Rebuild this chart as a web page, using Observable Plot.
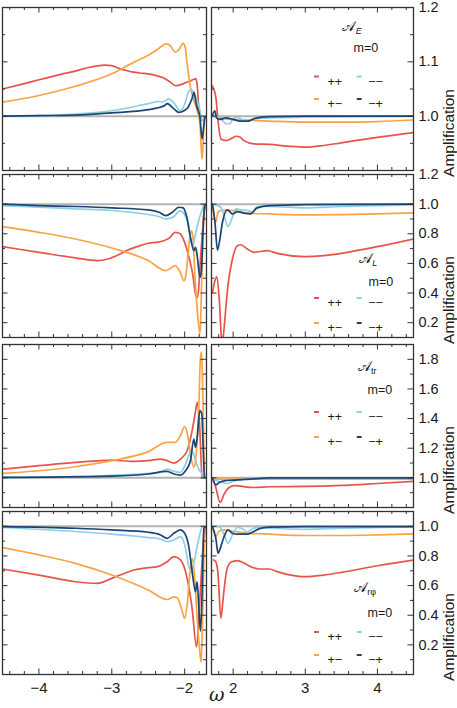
<!DOCTYPE html>
<html><head><meta charset="utf-8">
<script src="https://cdn.jsdelivr.net/npm/d3@7"></script>
<script src="https://cdn.jsdelivr.net/npm/@observablehq/plot@0.6"></script>
<style>
body{margin:0;background:#fff;}
#chart{position:relative;width:457px;height:708px;overflow:hidden;font-family:"Liberation Sans",Arial,sans-serif;}
#chart svg{position:absolute;overflow:visible;}
</style></head><body><div id="chart"></div>
<script>
// ---------- DATA ----------
const seriesKeys = ["pp","pm","mm","mp"];
const seriesLabels = ["++","+−","−−","−+"];

// Row 1: A_E
const E_left_pp = [[-4.5,1.050],[-4.2,1.060],[-4.0,1.067],[-3.7,1.077],[-3.5,1.083],[-3.3,1.090],[-3.1,1.094],[-3.0,1.093],[-2.9,1.088],[-2.8,1.084],[-2.7,1.081],[-2.6,1.079],[-2.5,1.078],[-2.4,1.075],[-2.3,1.071],[-2.2,1.063],[-2.12,1.056],[-2.05,1.058],[-1.98,1.062],[-1.92,1.065],[-1.87,1.068],[-1.85,1.069],[-1.83,1.06],[-1.806,1.017],[-1.78,0.998],[-1.757,0.992],[-1.728,0.997],[-1.70,1.0]];
const E_left_pm = [[-4.5,1.026],[-4.0,1.038],[-3.5,1.055],[-3.0,1.078],[-2.7,1.099],[-2.5,1.112],[-2.35,1.125],[-2.26,1.133],[-2.2,1.13],[-2.13,1.118],[-2.08,1.122],[-2.02,1.134],[-1.99,1.125],[-1.965,1.096],[-1.92,1.053],[-1.874,1.029],[-1.828,1.010],[-1.79,0.986],[-1.773,0.943],[-1.759,0.921],[-1.745,0.955],[-1.728,0.998],[-1.70,1.0]];
const E_left_mm = [[-4.5,1.0],[-4.0,1.001],[-3.5,1.004],[-3.0,1.010],[-2.5,1.023],[-2.35,1.027],[-2.3,1.026],[-2.22,1.032],[-2.15,1.025],[-2.06,1.010],[-2.0,1.022],[-1.96,1.04],[-1.91,1.050],[-1.87,1.041],[-1.83,1.029],[-1.80,1.017],[-1.78,1.004],[-1.757,0.992],[-1.73,0.995],[-1.70,1.0]];
const E_left_mp = [[-4.5,1.0],[-4.0,1.001],[-3.5,1.002],[-3.0,1.006],[-2.5,1.012],[-2.35,1.016],[-2.28,1.019],[-2.24,1.023],[-2.15,1.014],[-2.08,1.007],[-2.01,1.010],[-1.95,1.017],[-1.90,1.032],[-1.87,1.044],[-1.85,1.029],[-1.83,1.017],[-1.79,0.998],[-1.76,0.958],[-1.735,0.985],[-1.72,0.998],[-1.70,1.0]];
const E_right_pp = [[1.71,1.056],[1.76,1.035],[1.79,0.992],[1.83,0.958],[1.90,0.955],[1.99,0.960],[2.04,0.963],[2.10,0.961],[2.15,0.955],[2.29,0.949],[2.5,0.948],[2.75,0.945],[3.0,0.943],[3.25,0.946],[3.5,0.951],[4.0,0.961],[4.5,0.970]];
const E_right_pm = [[1.71,1.0],[1.8,0.998],[1.9,0.995],[2.0,0.994],[2.5,0.991],[3.0,0.989],[3.5,0.989],[4.0,0.990],[4.5,0.993]];
const E_right_mm = [[1.71,1.0],[1.78,0.999],[1.85,0.993],[1.90,0.986],[1.95,0.986],[2.00,0.995],[2.06,0.998],[2.12,0.994],[2.2,0.991],[2.3,0.995],[2.5,0.997],[3.0,0.998],[4.5,1.0]];
const E_right_mp = [[1.71,1.0],[1.746,1.010],[1.77,0.997],[1.82,0.994],[1.9,0.997],[2.0,0.994],[2.1,0.991],[2.2,0.991],[2.3,0.996],[2.5,0.999],[3.0,1.0],[4.5,1.0]];

// Row 2: A_L
const L_left_pp = [[-4.5,0.713],[-4.0,0.675],[-3.5,0.637],[-3.2,0.619],[-3.05,0.63],[-2.9,0.66],[-2.8,0.686],[-2.65,0.713],[-2.5,0.736],[-2.35,0.745],[-2.2,0.776],[-2.13,0.81],[-2.06,0.80],[-2.0,0.742],[-1.94,0.641],[-1.89,0.529],[-1.85,0.393],[-1.828,0.370],[-1.806,0.438],[-1.79,0.573],[-1.757,0.8],[-1.735,0.936],[-1.71,0.99],[-1.70,1.0]];
const L_left_pm = [[-4.5,0.848],[-4.0,0.81],[-3.5,0.765],[-3.0,0.704],[-2.5,0.619],[-2.26,0.551],[-2.2,0.565],[-2.13,0.585],[-2.06,0.54],[-2.01,0.483],[-1.99,0.5],[-1.955,0.652],[-1.925,0.79],[-1.905,0.82],[-1.885,0.77],[-1.857,0.506],[-1.826,0.28],[-1.79,0.123],[-1.773,0.348],[-1.755,0.686],[-1.735,0.957],[-1.71,1.0],[-1.70,1.0]];
const L_left_mm = [[-4.5,0.99],[-4.0,0.98],[-3.5,0.968],[-3.0,0.957],[-2.5,0.93],[-2.35,0.916],[-2.26,0.90],[-2.15,0.915],[-2.06,0.955],[-2.0,0.93],[-1.965,0.889],[-1.92,0.776],[-1.89,0.72],[-1.85,0.80],[-1.806,0.889],[-1.757,0.968],[-1.728,1.0],[-1.70,1.0]];
const L_left_mp = [[-4.5,1.0],[-4.0,0.99],[-3.5,0.984],[-3.0,0.975],[-2.5,0.961],[-2.35,0.945],[-2.26,0.923],[-2.17,0.945],[-2.08,0.979],[-2.02,0.975],[-1.97,0.911],[-1.92,0.776],[-1.874,0.686],[-1.85,0.709],[-1.828,0.652],[-1.79,0.506],[-1.77,0.55],[-1.745,0.844],[-1.725,0.99],[-1.70,1.0]];
const L_right_pp = [[1.714,0.405],[1.745,0.48],[1.774,0.51],[1.806,0.37],[1.838,0.1],[1.852,0.06],[1.868,0.13],[1.921,0.42],[1.99,0.63],[2.059,0.72],[2.105,0.726],[2.197,0.697],[2.289,0.675],[2.472,0.686],[2.61,0.668],[3.0,0.646],[3.25,0.652],[3.5,0.668],[4.0,0.713],[4.5,0.765]];
const L_right_pm = [[1.714,0.98],[1.76,0.878],[1.79,0.945],[1.82,0.957],[1.9,0.96],[2.0,0.957],[2.2,0.939],[2.5,0.934],[3.0,0.927],[3.5,0.929],[4.0,0.934],[4.5,0.941]];
const L_right_mm = [[1.714,1.0],[1.83,0.979],[1.875,0.923],[1.93,0.848],[1.99,0.912],[2.036,0.968],[2.105,0.961],[2.197,0.957],[2.266,0.945],[2.334,0.984],[2.5,0.984],[3.0,0.975],[3.5,0.984],[4.5,0.995]];
const L_right_mp = [[1.714,1.0],[1.746,0.889],[1.783,0.69],[1.82,0.776],[1.852,0.878],[1.92,0.961],[1.99,0.934],[2.059,0.95],[2.15,0.939],[2.24,0.934],[2.334,0.975],[2.5,0.99],[3.0,0.997],[4.5,1.0]];

// Row 3: A_tr
const tr_left_pp = [[-4.5,1.059],[-4.0,1.082],[-3.5,1.104],[-3.0,1.12],[-2.7,1.111],[-2.5,1.116],[-2.33,1.127],[-2.24,1.116],[-2.148,1.1],[-2.057,1.127],[-1.966,1.183],[-1.897,1.319],[-1.85,1.45],[-1.828,1.51],[-1.796,1.364],[-1.76,1.003],[-1.70,1.0]];
const tr_left_pm = [[-4.5,1.03],[-4.0,1.048],[-3.5,1.075],[-3.0,1.116],[-2.5,1.177],[-2.24,1.24],[-2.13,1.24],[-2.057,1.285],[-2.0,1.346],[-1.957,1.285],[-1.92,1.161],[-1.874,1.071],[-1.851,1.116],[-1.805,1.476],[-1.783,1.814],[-1.769,1.848],[-1.751,1.589],[-1.728,1.026],[-1.70,1.0]];
const tr_left_mm = [[-4.5,1.003],[-3.5,1.008],[-3.0,1.017],[-2.5,1.03],[-2.33,1.04],[-2.24,1.059],[-2.148,1.044],[-2.057,1.037],[-1.988,1.093],[-1.943,1.15],[-1.897,1.183],[-1.851,1.116],[-1.805,1.059],[-1.76,1.026],[-1.728,1.003],[-1.70,1.0]];
const tr_left_mp = [[-4.5,1.003],[-3.0,1.012],[-2.5,1.026],[-2.24,1.044],[-2.148,1.026],[-2.057,1.019],[-1.988,1.048],[-1.92,1.116],[-1.874,1.262],[-1.851,1.206],[-1.828,1.273],[-1.792,1.454],[-1.764,1.431],[-1.746,1.206],[-1.728,1.003],[-1.70,1.0]];
const tr_right_pp = [[1.714,0.998],[1.76,0.935],[1.82,0.834],[1.875,0.89],[1.944,0.935],[2.013,0.947],[2.289,0.935],[2.5,0.94],[3.0,0.942],[3.5,0.949],[4.0,0.962],[4.5,0.976]];
const tr_right_pm = [[1.714,0.998],[1.8,0.992],[2.5,0.991],[3.5,0.991],[4.5,0.992]];
const tr_right_mm = [[1.714,0.998],[1.78,0.98],[1.83,0.969],[1.92,0.962],[1.99,0.976],[2.15,0.989],[2.5,0.998],[4.5,1.0]];
const tr_right_mp = [[1.714,1.0],[1.76,0.953],[1.806,0.969],[1.875,0.98],[2.013,0.985],[2.243,0.992],[2.5,1.0],[4.5,1.0]];

// Row 4: A_rφ
const rphi_left_pp = [[-4.5,0.712],[-4.0,0.671],[-3.5,0.626],[-3.2,0.615],[-3.0,0.649],[-2.83,0.682],[-2.7,0.705],[-2.5,0.721],[-2.375,0.728],[-2.24,0.761],[-2.148,0.795],[-2.057,0.773],[-1.966,0.649],[-1.897,0.445],[-1.837,0.186],[-1.805,0.378],[-1.783,0.581],[-1.755,0.807],[-1.728,0.965],[-1.70,0.998]];
const rphi_left_pm = [[-4.5,0.856],[-4.0,0.807],[-3.5,0.75],[-3.0,0.671],[-2.5,0.57],[-2.24,0.506],[-2.148,0.524],[-2.1,0.518],[-2.03,0.423],[-2.0,0.378],[-1.966,0.468],[-1.93,0.671],[-1.897,0.784],[-1.865,0.671],[-1.828,0.378],[-1.796,0.175],[-1.774,0.084],[-1.751,0.445],[-1.728,0.919],[-1.70,0.987]];
const rphi_left_mm = [[-4.5,0.992],[-3.5,0.965],[-3.0,0.947],[-2.5,0.924],[-2.33,0.913],[-2.24,0.897],[-2.148,0.908],[-2.057,0.931],[-1.988,0.852],[-1.943,0.728],[-1.91,0.694],[-1.851,0.807],[-1.805,0.919],[-1.76,0.992],[-1.70,0.998]];
const rphi_left_mp = [[-4.5,0.998],[-3.5,0.987],[-3.0,0.976],[-2.5,0.96],[-2.33,0.942],[-2.24,0.919],[-2.148,0.953],[-2.057,0.976],[-1.988,0.942],[-1.943,0.863],[-1.897,0.694],[-1.851,0.558],[-1.828,0.626],[-1.805,0.445],[-1.783,0.292],[-1.76,0.558],[-1.737,0.987],[-1.70,0.998]];
const rphi_right_pp = [[1.728,0.773],[1.76,0.761],[1.792,0.671],[1.829,0.378],[1.866,0.536],[1.912,0.705],[1.967,0.757],[2.059,0.768],[2.128,0.757],[2.243,0.728],[2.357,0.712],[2.5,0.712],[2.61,0.694],[2.748,0.676],[3.0,0.66],[3.254,0.671],[3.5,0.689],[4.0,0.734],[4.5,0.773]];
const rphi_right_pm = [[1.714,0.998],[1.76,0.931],[1.806,0.969],[1.875,0.976],[2.013,0.965],[2.243,0.953],[2.5,0.947],[3.0,0.938],[3.5,0.938],[4.0,0.942],[4.5,0.949]];
const rphi_right_mm = [[1.714,1.0],[1.806,0.998],[1.875,0.942],[1.93,0.886],[1.99,0.942],[2.059,0.992],[2.128,0.983],[2.197,0.96],[2.266,0.983],[2.334,0.992],[2.5,0.987],[3.0,0.98],[3.5,0.987],[4.5,0.996]];
const rphi_right_mp = [[1.714,0.998],[1.76,0.919],[1.792,0.818],[1.829,0.863],[1.875,0.931],[1.93,0.976],[1.99,0.953],[2.059,0.947],[2.197,0.947],[2.266,0.96],[2.357,0.983],[2.5,0.994],[3.0,0.998],[4.5,0.998]];

// Axes / ticks
const xDomainLeft = [-4.5, -1.7], xDomainRight = [1.7, 4.5];
const xMajorLeft = [-4, -3, -2];
const xMinorLeft = [-4.4, -4.2, -3.8, -3.6, -3.4, -3.2, -2.8, -2.6, -2.4, -2.2, -1.8];
const xMajorRight = [2, 3, 4];
const xMinorRight = [1.8, 2.2, 2.4, 2.6, 2.8, 3.2, 3.4, 3.6, 3.8, 4.2, 4.4];

const yDomainE = [0.9, 1.2], yMajorE = [0.9, 1.0, 1.1, 1.2], yMinorE = [0.95, 1.05, 1.15], yLabelsE = [1.0, 1.1, 1.2];
const yDomainL = [0.1, 1.2], yMajorL = [0.2, 0.4, 0.6, 0.8, 1.0, 1.2], yMinorL = [0.3, 0.5, 0.7, 0.9, 1.1], yLabelsL = [0.2, 0.4, 0.6, 0.8, 1.0, 1.2];
const yDomainTr = [0.8, 1.9], yMajorTr = [1.0, 1.2, 1.4, 1.6, 1.8], yMinorTr = [0.9, 1.1, 1.3, 1.5, 1.7], yLabelsTr = [1.0, 1.2, 1.4, 1.6, 1.8];
const yDomainRphi = [0, 1.1], yMajorRphi = [0.2, 0.4, 0.6, 0.8, 1.0], yMinorRphi = [0.1, 0.3, 0.5, 0.7, 0.9], yLabelsRphi = [0.2, 0.4, 0.6, 0.8, 1.0];

// ---------- STYLE / LAYOUT ----------
const colors = ["#e8544b", "#f8a444", "#8dcfe6", "#1c4574"];
const frameColor = "#333";
const sans = "Liberation Sans, Arial, sans-serif";

const rowsCfg = [
  {sub:"E", subItalic:true, y:yDomainE, yMajor:yMajorE, yMinor:yMinorE, yLabels:yLabelsE, top:7, h:163,
   left:[E_left_pp,E_left_pm,E_left_mm,E_left_mp], right:[E_right_pp,E_right_pm,E_right_mm,E_right_mp],
   lab:{a:[141,20], m:[142,36], leg:[69.5,92]}},
  {sub:"L", subItalic:true, y:yDomainL, yMajor:yMajorL, yMinor:yMinorL, yLabels:yLabelsL, top:174, h:163,
   left:[L_left_pp,L_left_pm,L_left_mm,L_left_mp], right:[L_right_pp,L_right_pm,L_right_mm,L_right_mp],
   lab:{a:[157,85], m:[157,103], leg:[124,149]}},
  {sub:"tr", subItalic:false, y:yDomainTr, yMajor:yMajorTr, yMinor:yMinorTr, yLabels:yLabelsTr, top:344, h:163,
   left:[tr_left_pp,tr_left_pm,tr_left_mm,tr_left_mp], right:[tr_right_pp,tr_right_pm,tr_right_mm,tr_right_mp],
   lab:{a:[156,23], m:[156,41], leg:[68,93]}},
  {sub:"rφ", subItalic:false, y:yDomainRphi, yMajor:yMajorRphi, yMinor:yMinorRphi, yLabels:yLabelsRphi, top:511, h:163,
   left:[rphi_left_pp,rphi_left_pm,rphi_left_mm,rphi_left_mp], right:[rphi_right_pp,rphi_right_pm,rphi_right_mm,rphi_right_mp],
   lab:{a:[154,77], m:[156,97], leg:[121,144]}}
];

const legendCols = [{d:[103,108], t:116}, {d:[145.7,150.7], t:156.7}];
// legend layout: row a -> ++ (col0), −− (col1); row b -> +− (col0), −+ (col1)
const legendPlace = [[0,0],[1,0],[0,1],[1,1]]; // [row, col] for series pp, pm, mm, mp

const fmtMinus = d => (d < 0 ? "−" + Math.abs(d) : String(d));

const chart = document.getElementById("chart");

function makePanel(cfg, side, isBottom) {
  const isRight = side === "right";
  const fw = isRight ? 202 : 204, fh = cfg.h;
  const mL = 1, mT = 1, mR = isRight ? 44 : 1, mB = isBottom ? 34 : 1;
  const xMaj = isRight ? xMajorRight : xMajorLeft;
  const xMin = isRight ? xMinorRight : xMinorLeft;
  const series = cfg[side];
  const tk = {stroke: frameColor, strokeWidth: 1};
  const marks = [
    Plot.ruleY([1], {stroke: "#b3b3b3", strokeWidth: 2}),
    ...series.map((s, i) => Plot.line(s, {x: d => d[0], y: d => d[1], stroke: colors[i], strokeWidth: 1.7, curve: "monotone-x", clip: true})),
    Plot.ruleX(xMaj, {...tk, insetTop: fh - 5.5}),
    Plot.ruleX(xMaj, {...tk, insetBottom: fh - 5.5}),
    Plot.ruleX(xMin, {...tk, insetTop: fh - 3}),
    Plot.ruleX(xMin, {...tk, insetBottom: fh - 3}),
    Plot.ruleY(cfg.yMajor, {...tk, insetRight: fw - 5.5}),
    Plot.ruleY(cfg.yMajor, {...tk, insetLeft: fw - 5.5}),
    Plot.ruleY(cfg.yMinor, {...tk, insetRight: fw - 3}),
    Plot.ruleY(cfg.yMinor, {...tk, insetLeft: fw - 3}),
    Plot.frame({stroke: frameColor, strokeWidth: 1.3})
  ];
  if (isRight) {
    marks.push(
      Plot.axisY(cfg.yLabels, {anchor: "right", tickSize: 0, tickPadding: 5, fontSize: 14.5, fill: "#1a1a1a", tickFormat: d => d.toFixed(1), label: null}),
      Plot.text(["Amplification"], {frameAnchor: "right", dx: 36, rotate: -90, fontSize: 15.5, fill: "#1a1a1a"}),
      Plot.text(["m=0"], {frameAnchor: "top-left", dx: cfg.lab.m[0], dy: cfg.lab.m[1], textAnchor: "start", fontSize: 12.5, fill: "#1a1a1a"}),
      ...seriesLabels.map((lab, i) => {
        const [r, c] = legendPlace[i];
        return Plot.text([lab], {frameAnchor: "top-left", dx: legendCols[c].t, dy: cfg.lab.leg[r], textAnchor: "start", fontSize: 12.5, fill: "#1a1a1a"});
      })
    );
  }
  if (isBottom) {
    marks.push(Plot.axisX(xMaj, {anchor: "bottom", tickSize: 0, tickPadding: 8, fontSize: 15, fill: "#1a1a1a", tickFormat: fmtMinus, label: null}));
    if (isRight) marks.push(Plot.text(["ω"], {frameAnchor: "bottom-left", dx: -2.5, dy: 26, fontSize: 19, fontStyle: "italic", fontFamily: "DejaVu Serif, Liberation Serif, serif", fill: "#1a1a1a"}));
  }
  const el = Plot.plot({
    width: fw + mL + mR, height: fh + mT + mB,
    marginLeft: mL, marginRight: mR, marginTop: mT, marginBottom: mB,
    x: {domain: isRight ? xDomainRight : xDomainLeft, axis: null},
    y: {domain: cfg.y, axis: null},
    style: {background: "transparent", fontFamily: sans, overflow: "visible"},
    marks
  });
  if (isRight) {
    const g = d3.select(el).append("g");
    seriesKeys.forEach((k, i) => {
      const [r, c] = legendPlace[i];
      const yy = mT + cfg.lab.leg[r];
      g.append("line").attr("x1", mL + legendCols[c].d[0]).attr("x2", mL + legendCols[c].d[1])
        .attr("y1", yy).attr("y2", yy).attr("stroke", colors[i]).attr("stroke-width", 2);
    });
    // quantity label: script A with subscript
    const t = g.append("text")
      .attr("x", mL + cfg.lab.a[0]).attr("y", mT + cfg.lab.a[1]).attr("dy", "0.35em")
      .attr("fill", "#1a1a1a").attr("font-family", sans);
    t.append("tspan").attr("font-size", 14).attr("font-family", "DejaVu Serif, DejaVu Sans, serif").text("𝒜");
    t.append("tspan").attr("font-size", 9).attr("dy", 3).attr("dx", 0.5)
      .attr("font-style", cfg.subItalic ? "italic" : "normal").text(cfg.sub);
  }
  el.style.position = "absolute";
  el.style.left = ((isRight ? 211 : 2) - mL) + "px";
  el.style.top = (cfg.top - mT) + "px";
  el.style.maxWidth = "none";
  chart.appendChild(el);
}

rowsCfg.forEach((cfg, r) => {
  makePanel(cfg, "left", r === rowsCfg.length - 1);
  makePanel(cfg, "right", r === rowsCfg.length - 1);
});
</script></body></html>
